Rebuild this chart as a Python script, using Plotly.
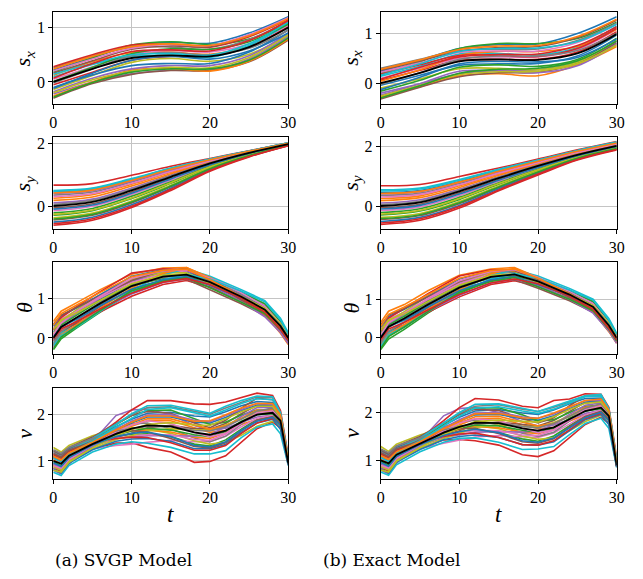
import plotly.graph_objects as go

# ---------------- data ----------------
# knot times
T_S = [0, 5, 10, 15, 20, 25, 30]
T_TH = [0, 1, 3, 6, 10, 14, 17, 20, 24, 27, 29, 30]
T_V = [0, 1, 2, 5, 8, 10, 12, 15, 18, 20, 22, 24, 26, 28, 29, 30]

# s_x, SVGP (a): mean and each sample's deviation from the mean
SX_A_MEAN = [0.00, 0.24, 0.44, 0.49, 0.47, 0.64, 1.00]
SX_A_DEV = [
    [0.22, 0.21, 0.22, 0.24, 0.24, 0.26, 0.20],
    [0.12, 0.13, 0.10, 0.06, 0.04, 0.02, 0.00],
    [0.18, 0.20, 0.24, 0.25, 0.22, 0.15, 0.08],
    [-0.05, -0.06, -0.04, -0.02, 0.00, 0.01, 0.02],
    [-0.22, -0.24, -0.29, -0.27, -0.25, -0.22, -0.16],
    [-0.30, -0.27, -0.30, -0.28, -0.26, -0.27, -0.23],
    [0.05, 0.04, 0.07, 0.09, 0.08, 0.06, 0.04],
    [0.26, 0.24, 0.20, 0.15, 0.13, 0.14, 0.12],
    [-0.14, -0.12, -0.08, -0.06, -0.09, -0.13, -0.14],
    [0.09, 0.08, 0.03, 0.00, -0.02, 0.03, 0.07],
    [-0.10, -0.11, -0.14, -0.15, -0.13, -0.09, -0.04],
    [-0.26, -0.24, -0.22, -0.24, -0.27, -0.26, -0.21],
    [0.01, 0.03, 0.08, 0.12, 0.13, 0.10, 0.06],
    [0.28, 0.26, 0.24, 0.20, 0.17, 0.19, 0.15],
    [-0.18, -0.17, -0.20, -0.19, -0.17, -0.16, -0.10],
    [0.16, 0.15, 0.16, 0.17, 0.18, 0.21, 0.17],
    [0.20, 0.18, 0.18, 0.20, 0.20, 0.23, 0.18],
    [-0.02, 0.00, 0.04, 0.05, 0.03, -0.02, -0.05],
    [-0.20, -0.20, -0.24, -0.22, -0.21, -0.19, -0.13],
    [0.14, 0.10, 0.06, 0.03, 0.02, 0.06, 0.10],
    [-0.12, -0.08, -0.04, -0.02, -0.05, -0.07, -0.10],
    [0.24, 0.23, 0.21, 0.21, 0.20, 0.21, 0.16],
    [-0.28, -0.25, -0.26, -0.25, -0.23, -0.24, -0.19],
    [0.07, 0.10, 0.12, 0.10, 0.10, 0.12, 0.13],
]
# s_x, Exact (b)
SX_B_MEAN = [0.00, 0.21, 0.44, 0.48, 0.47, 0.60, 0.99]
SX_B_DEV = [
    [0.24, 0.25, 0.26, 0.30, 0.32, 0.40, 0.35],
    [-0.28, -0.28, -0.29, -0.29, -0.32, -0.23, -0.25],
    [0.20, 0.22, 0.26, 0.32, 0.33, 0.30, 0.24],
    [0.06, 0.05, 0.02, 0.00, 0.01, 0.03, 0.05],
    [-0.20, -0.22, -0.25, -0.22, -0.20, -0.18, -0.15],
    [-0.32, -0.29, -0.31, -0.27, -0.25, -0.20, -0.18],
    [0.10, 0.09, 0.06, 0.05, 0.06, 0.08, 0.10],
    [0.30, 0.27, 0.22, 0.20, 0.22, 0.26, 0.22],
    [-0.10, -0.12, -0.15, -0.18, -0.20, -0.18, -0.12],
    [0.14, 0.13, 0.15, 0.12, 0.10, 0.12, 0.16],
    [-0.04, -0.05, -0.08, -0.09, -0.07, -0.05, -0.02],
    [0.04, 0.06, 0.12, 0.16, 0.17, 0.14, 0.10],
    [-0.16, -0.15, -0.12, -0.11, -0.13, -0.12, -0.08],
    [0.18, 0.16, 0.12, 0.08, 0.07, 0.10, 0.12],
    [-0.24, -0.22, -0.20, -0.23, -0.26, -0.25, -0.20],
    [0.26, 0.24, 0.20, 0.24, 0.27, 0.32, 0.28],
    [0.22, 0.20, 0.18, 0.17, 0.18, 0.22, 0.20],
    [-0.02, 0.00, 0.04, 0.07, 0.08, 0.06, 0.02],
    [-0.26, -0.25, -0.27, -0.25, -0.23, -0.21, -0.22],
    [0.16, 0.18, 0.20, 0.22, 0.24, 0.24, 0.20],
    [-0.13, -0.09, -0.05, -0.04, -0.04, -0.08, -0.10],
    [0.28, 0.26, 0.24, 0.27, 0.29, 0.34, 0.30],
    [-0.30, -0.26, -0.24, -0.20, -0.17, -0.15, -0.14],
    [0.08, 0.11, 0.09, 0.10, 0.12, 0.16, 0.15],
]

# s_y, SVGP (a)
SY_A_MEAN = [0.00, 0.13, 0.50, 0.94, 1.37, 1.71, 1.99]
SY_A_DEV = [
    [0.45, 0.41, 0.35, 0.26, 0.13, 0.06, 0.03],
    [0.25, 0.23, 0.20, 0.15, 0.08, 0.04, 0.02],
    [-0.30, -0.28, -0.26, -0.21, -0.12, -0.06, -0.02],
    [0.67, 0.59, 0.49, 0.34, 0.16, 0.07, 0.04],
    [0.10, 0.09, 0.08, 0.06, 0.03, 0.01, 0.00],
    [-0.45, -0.43, -0.40, -0.32, -0.18, -0.09, -0.03],
    [-0.15, -0.14, -0.13, -0.11, -0.06, -0.03, -0.01],
    [0.35, 0.32, 0.27, 0.20, 0.10, 0.04, 0.02],
    [-0.38, -0.36, -0.34, -0.27, -0.15, -0.08, -0.03],
    [0.50, 0.45, 0.38, 0.28, 0.14, 0.06, 0.04],
    [-0.52, -0.49, -0.46, -0.37, -0.21, -0.11, -0.04],
    [0.18, 0.16, 0.14, 0.10, 0.05, 0.02, 0.01],
    [-0.22, -0.21, -0.19, -0.16, -0.09, -0.05, -0.02],
    [-0.62, -0.59, -0.55, -0.44, -0.25, -0.13, -0.05],
    [0.40, 0.36, 0.30, 0.22, 0.11, 0.05, 0.03],
    [-0.06, -0.06, -0.05, -0.04, -0.02, -0.01, 0.00],
    [0.30, 0.27, 0.23, 0.17, 0.08, 0.04, 0.02],
    [0.05, 0.05, 0.04, 0.03, 0.01, 0.01, 0.00],
    [-0.27, -0.26, -0.24, -0.19, -0.11, -0.06, -0.02],
    [0.48, 0.43, 0.36, 0.27, 0.13, 0.06, 0.04],
    [-0.10, -0.10, -0.09, -0.07, -0.04, -0.02, -0.01],
    [0.42, 0.38, 0.32, 0.24, 0.12, 0.05, 0.03],
    [-0.42, -0.40, -0.37, -0.30, -0.17, -0.09, -0.03],
    [-0.57, -0.54, -0.51, -0.40, -0.23, -0.12, -0.05],
]
# s_y, Exact (b)
SY_B_MEAN = [0.00, 0.12, 0.49, 0.93, 1.34, 1.71, 2.01]
SY_B_DEV = [
    [0.45, 0.40, 0.33, 0.25, 0.17, 0.13, 0.11],
    [0.25, 0.22, 0.19, 0.14, 0.09, 0.07, 0.06],
    [-0.30, -0.29, -0.27, -0.20, -0.14, -0.08, -0.06],
    [0.68, 0.60, 0.50, 0.34, 0.23, 0.17, 0.15],
    [0.10, 0.09, 0.07, 0.05, 0.04, 0.03, 0.02],
    [-0.45, -0.44, -0.41, -0.31, -0.22, -0.12, -0.09],
    [-0.15, -0.15, -0.14, -0.10, -0.07, -0.04, -0.03],
    [0.35, 0.31, 0.26, 0.19, 0.13, 0.10, 0.08],
    [-0.38, -0.37, -0.34, -0.26, -0.18, -0.10, -0.08],
    [0.54, 0.48, 0.40, 0.30, 0.20, 0.15, 0.13],
    [-0.52, -0.50, -0.47, -0.35, -0.25, -0.14, -0.11],
    [0.18, 0.16, 0.13, 0.10, 0.07, 0.05, 0.04],
    [-0.22, -0.21, -0.20, -0.15, -0.11, -0.06, -0.05],
    [-0.62, -0.60, -0.56, -0.42, -0.30, -0.17, -0.13],
    [0.40, 0.36, 0.30, 0.22, 0.15, 0.11, 0.10],
    [-0.06, -0.06, -0.05, -0.04, -0.03, -0.02, -0.01],
    [0.30, 0.27, 0.22, 0.17, 0.11, 0.08, 0.07],
    [0.05, 0.04, 0.04, 0.03, 0.02, 0.01, 0.01],
    [-0.27, -0.26, -0.24, -0.18, -0.13, -0.07, -0.06],
    [0.50, 0.45, 0.37, 0.28, 0.19, 0.14, 0.12],
    [-0.10, -0.10, -0.09, -0.07, -0.05, -0.03, -0.02],
    [0.42, 0.37, 0.31, 0.23, 0.16, 0.12, 0.10],
    [-0.42, -0.41, -0.38, -0.29, -0.20, -0.11, -0.09],
    [-0.57, -0.55, -0.51, -0.39, -0.27, -0.15, -0.12],
]

# theta, SVGP (a)
TH_A_MEAN = [0.00, 0.28, 0.52, 0.88, 1.32, 1.56, 1.61, 1.42, 1.05, 0.72, 0.30, 0.00]
TH_A_DEV = [
    [0.15, 0.12, 0.14, 0.10, 0.12, 0.10, 0.08, 0.04, 0.06, 0.10, 0.08, 0.05],
    [0.42, 0.40, 0.38, 0.35, 0.30, 0.22, 0.18, 0.10, 0.02, -0.05, -0.10, -0.08],
    [-0.30, -0.30, -0.26, -0.22, -0.16, -0.10, -0.05, 0.02, 0.08, 0.06, 0.05, 0.06],
    [-0.08, -0.10, -0.15, -0.22, -0.26, -0.20, -0.15, -0.12, -0.10, -0.12, -0.14, -0.12],
    [0.05, 0.08, 0.10, 0.14, 0.15, 0.12, 0.10, 0.08, 0.05, 0.02, -0.02, -0.05],
    [-0.18, -0.15, -0.12, -0.08, -0.06, -0.10, -0.12, -0.19, -0.18, -0.15, -0.12, -0.10],
    [0.25, 0.20, 0.18, 0.15, 0.10, 0.08, 0.10, 0.12, 0.14, 0.12, 0.10, 0.08],
    [-0.05, -0.02, 0.00, 0.03, 0.05, 0.02, -0.02, -0.04, -0.06, -0.04, -0.03, -0.02],
    [0.10, 0.15, 0.20, 0.22, 0.18, 0.10, 0.05, 0.00, -0.05, -0.08, -0.06, -0.04],
    [-0.12, -0.16, -0.20, -0.18, -0.10, 0.05, 0.15, 0.15, 0.18, 0.23, 0.20, 0.13],
    [0.30, 0.28, 0.25, 0.22, 0.25, 0.18, 0.12, 0.06, 0.02, 0.00, 0.02, 0.00],
    [-0.22, -0.20, -0.18, -0.12, -0.05, 0.08, 0.18, 0.12, 0.00, -0.12, -0.18, -0.17],
    [0.00, 0.05, 0.06, 0.08, 0.02, -0.05, -0.08, 0.05, 0.12, 0.15, 0.12, 0.10],
    [0.20, 0.24, 0.28, 0.30, 0.33, 0.20, 0.12, 0.08, -0.02, -0.10, -0.06, -0.04],
    [-0.25, -0.24, -0.22, -0.16, -0.20, -0.15, -0.10, -0.08, -0.12, -0.18, -0.16, -0.14],
    [0.35, 0.30, 0.26, 0.20, 0.14, 0.16, 0.14, 0.00, -0.08, -0.06, -0.04, -0.02],
    [0.08, 0.10, 0.16, 0.18, 0.20, 0.15, 0.12, 0.10, 0.10, 0.08, 0.06, 0.04],
    [-0.15, -0.12, -0.08, -0.04, 0.00, -0.02, 0.00, 0.02, 0.04, 0.02, 0.00, -0.02],
    [0.22, 0.18, 0.12, 0.08, 0.06, 0.04, 0.02, -0.02, 0.00, 0.04, 0.06, 0.03],
    [-0.20, -0.22, -0.24, -0.20, -0.14, -0.08, 0.00, 0.08, 0.14, 0.20, 0.16, 0.10],
    [0.02, 0.00, -0.04, -0.06, -0.08, -0.08, -0.05, -0.08, -0.04, 0.00, 0.02, 0.00],
    [0.32, 0.34, 0.32, 0.28, 0.24, 0.16, 0.14, 0.06, 0.00, -0.04, -0.02, 0.00],
    [-0.28, -0.26, -0.22, -0.18, -0.12, -0.12, -0.08, -0.14, -0.14, -0.10, -0.08, -0.06],
    [-0.02, -0.05, -0.10, -0.14, -0.18, -0.14, -0.10, -0.06, -0.04, -0.06, -0.08, -0.06],
]
# theta, Exact (b)
TH_B_MEAN = [0.00, 0.29, 0.50, 0.86, 1.30, 1.58, 1.64, 1.46, 1.12, 0.80, 0.32, 0.00]
TH_B_DEV = [
    [0.12, 0.10, 0.12, 0.12, 0.10, 0.08, 0.06, 0.05, 0.08, 0.12, 0.10, 0.06],
    [0.40, 0.40, 0.36, 0.36, 0.32, 0.20, 0.18, 0.10, 0.00, -0.08, -0.12, -0.10],
    [-0.30, -0.32, -0.28, -0.22, -0.15, -0.08, -0.04, 0.02, 0.06, 0.06, 0.04, 0.08],
    [-0.10, -0.12, -0.16, -0.20, -0.24, -0.20, -0.16, -0.12, -0.10, -0.12, -0.12, -0.10],
    [0.04, 0.06, 0.10, 0.12, 0.14, 0.10, 0.08, 0.06, 0.04, 0.00, -0.04, -0.08],
    [-0.16, -0.14, -0.10, -0.08, -0.05, -0.10, -0.14, -0.18, -0.16, -0.14, -0.14, -0.12],
    [0.22, 0.20, 0.16, 0.14, 0.10, 0.08, 0.10, 0.10, 0.12, 0.10, 0.06, -0.14],
    [-0.04, -0.02, 0.02, 0.04, 0.05, 0.02, -0.02, -0.05, -0.06, -0.04, -0.02, -0.02],
    [0.08, 0.14, 0.18, 0.22, 0.16, 0.12, 0.08, 0.02, -0.04, -0.06, -0.05, -0.04],
    [-0.14, -0.16, -0.18, -0.16, -0.08, 0.04, 0.12, 0.14, 0.16, 0.20, 0.18, 0.12],
    [0.28, 0.26, 0.24, 0.22, 0.22, 0.16, 0.12, 0.06, 0.02, 0.00, 0.02, 0.00],
    [-0.20, -0.20, -0.16, -0.12, -0.06, 0.08, 0.16, 0.10, -0.02, -0.12, -0.16, -0.14],
    [0.00, 0.04, 0.06, 0.08, 0.04, -0.04, -0.06, 0.04, 0.10, 0.14, 0.12, 0.10],
    [0.18, 0.22, 0.26, 0.28, 0.30, 0.18, 0.10, 0.06, -0.04, -0.10, -0.06, -0.04],
    [-0.26, -0.24, -0.22, -0.18, -0.20, -0.16, -0.12, -0.10, -0.12, -0.16, -0.14, -0.14],
    [0.34, 0.30, 0.26, 0.20, 0.16, 0.14, 0.12, 0.00, -0.06, -0.06, -0.04, -0.02],
    [0.06, 0.10, 0.14, 0.16, 0.18, 0.14, 0.12, 0.10, 0.08, 0.08, 0.06, 0.04],
    [-0.14, -0.12, -0.08, -0.04, 0.00, -0.02, 0.00, 0.02, 0.04, 0.02, 0.00, -0.02],
    [0.20, 0.18, 0.12, 0.08, 0.06, 0.04, 0.02, -0.02, 0.00, 0.04, 0.06, 0.02],
    [-0.22, -0.22, -0.22, -0.18, -0.12, -0.06, 0.02, 0.08, 0.12, 0.18, 0.14, 0.10],
    [0.02, 0.00, -0.04, -0.06, -0.08, -0.08, -0.06, -0.08, -0.04, 0.00, 0.02, -0.04],
    [0.30, 0.32, 0.30, 0.26, 0.24, 0.16, 0.14, 0.08, 0.02, -0.02, -0.02, 0.00],
    [-0.28, -0.26, -0.22, -0.18, -0.12, -0.12, -0.08, -0.14, -0.12, -0.10, -0.10, -0.08],
    [-0.04, -0.06, -0.10, -0.14, -0.18, -0.16, -0.12, -0.06, -0.04, -0.06, -0.08, -0.06],
]

# v, SVGP (a)
V_A_MEAN = [1.00, 0.94, 1.11, 1.36, 1.58, 1.69, 1.76, 1.74, 1.61, 1.56, 1.65, 1.83, 1.99, 2.03, 1.86, 0.95]
V_A_DEV = [
    [0.20, 0.18, 0.15, 0.12, 0.15, 0.20, 0.26, 0.30, 0.35, 0.38, 0.40, 0.35, 0.28, 0.22, 0.12, 0.06],
    [-0.10, -0.12, -0.10, -0.05, 0.00, 0.05, 0.10, 0.12, 0.10, 0.05, 0.00, -0.05, -0.10, -0.12, -0.10, 0.00],
    [0.05, 0.08, 0.10, 0.08, -0.05, -0.12, -0.18, -0.22, -0.25, -0.24, -0.20, -0.15, -0.10, -0.08, -0.06, -0.02],
    [-0.15, -0.16, -0.12, -0.10, -0.20, -0.30, -0.47, -0.55, -0.64, -0.57, -0.54, -0.43, -0.30, -0.20, -0.15, -0.04],
    [-0.20, -0.22, -0.18, 0.05, 0.39, 0.40, 0.35, 0.25, 0.15, 0.10, 0.05, 0.00, -0.05, -0.05, -0.04, 0.00],
    [0.10, 0.12, 0.05, -0.02, -0.08, -0.10, -0.05, 0.02, 0.08, 0.12, 0.15, 0.18, 0.20, 0.18, 0.10, 0.04],
    [0.15, 0.10, 0.08, -0.10, -0.25, -0.33, -0.36, -0.30, -0.20, -0.15, -0.12, -0.10, -0.08, -0.05, -0.02, 0.00],
    [0.00, 0.02, 0.05, 0.10, 0.12, 0.10, 0.05, -0.05, -0.12, -0.15, -0.12, -0.05, 0.05, 0.10, 0.08, 0.03],
    [0.29, 0.25, 0.22, 0.18, 0.10, 0.02, -0.08, -0.15, -0.18, -0.20, -0.25, -0.28, -0.25, -0.18, -0.10, 0.02],
    [-0.24, -0.25, -0.21, -0.17, -0.22, -0.28, -0.38, -0.45, -0.46, -0.41, -0.43, -0.33, -0.27, -0.24, -0.28, -0.05],
    [-0.05, -0.08, -0.05, 0.02, 0.08, 0.12, 0.18, 0.20, 0.22, 0.25, 0.28, 0.25, 0.20, 0.15, 0.10, 0.05],
    [0.12, 0.10, 0.08, 0.05, -0.02, -0.05, -0.10, -0.12, -0.10, -0.08, -0.05, 0.00, 0.05, 0.08, 0.05, 0.02],
    [-0.08, -0.05, 0.00, 0.08, 0.20, 0.28, 0.32, 0.35, 0.30, 0.22, 0.18, 0.15, 0.10, 0.05, 0.02, 0.00],
    [0.08, 0.05, 0.02, 0.10, 0.25, 0.40, 0.53, 0.55, 0.61, 0.65, 0.61, 0.53, 0.46, 0.37, 0.22, 0.16],
    [-0.15, -0.12, -0.08, -0.05, -0.10, -0.18, -0.22, -0.20, -0.08, 0.00, 0.08, 0.12, 0.15, 0.12, 0.06, 0.02],
    [0.22, 0.20, 0.18, 0.15, 0.22, 0.28, 0.30, 0.28, 0.20, 0.15, 0.22, 0.30, 0.35, 0.28, 0.15, 0.08],
    [0.05, 0.02, 0.00, -0.02, -0.10, -0.15, -0.20, -0.18, -0.15, -0.12, -0.08, -0.02, 0.02, 0.00, -0.04, 0.00],
    [0.18, 0.15, 0.12, 0.10, 0.20, 0.30, 0.38, 0.42, 0.45, 0.44, 0.48, 0.42, 0.38, 0.32, 0.18, 0.10],
    [-0.12, -0.14, -0.12, -0.10, -0.12, -0.15, -0.12, -0.05, 0.05, 0.10, 0.12, 0.08, 0.05, 0.02, -0.02, 0.00],
    [0.10, 0.08, 0.10, 0.12, 0.20, 0.32, 0.42, 0.45, 0.48, 0.46, 0.52, 0.46, 0.40, 0.34, 0.16, 0.10],
    [-0.18, -0.20, -0.16, -0.12, -0.16, -0.22, -0.28, -0.32, -0.35, -0.30, -0.30, -0.22, -0.18, -0.14, -0.18, -0.03],
    [0.02, 0.00, 0.02, 0.05, 0.06, 0.08, 0.14, 0.16, 0.15, 0.12, 0.10, 0.08, 0.10, 0.06, 0.02, 0.00],
    [-0.02, -0.04, -0.02, 0.00, -0.02, -0.05, -0.06, -0.08, -0.05, -0.04, -0.02, 0.02, 0.00, -0.02, -0.02, 0.00],
    [0.14, 0.12, 0.10, 0.02, -0.10, -0.18, -0.26, -0.35, -0.38, -0.33, -0.32, -0.24, -0.18, -0.12, -0.08, -0.02],
    [-0.06, -0.08, -0.06, 0.00, 0.10, 0.16, 0.22, 0.25, 0.26, 0.28, 0.32, 0.28, 0.24, 0.18, 0.10, 0.04],
    [0.16, 0.14, 0.12, 0.06, 0.02, -0.04, -0.14, -0.26, -0.30, -0.28, -0.26, -0.18, -0.12, -0.08, -0.06, 0.00],
    [-0.10, -0.10, -0.08, -0.02, 0.04, 0.08, 0.10, 0.06, 0.00, -0.04, -0.06, -0.02, 0.04, 0.04, 0.02, 0.00],
    [0.24, 0.22, 0.18, 0.12, 0.06, 0.00, -0.02, 0.00, 0.04, 0.08, 0.08, 0.06, 0.08, 0.10, 0.06, 0.02],
    [-0.20, -0.18, -0.14, -0.08, -0.04, -0.02, 0.02, 0.08, 0.16, 0.20, 0.25, 0.22, 0.18, 0.14, 0.08, 0.02],
    [0.06, 0.04, 0.04, 0.06, 0.14, 0.22, 0.34, 0.40, 0.42, 0.40, 0.44, 0.40, 0.34, 0.28, 0.14, 0.08],
    [-0.04, -0.06, -0.04, -0.02, -0.06, -0.10, -0.14, -0.22, -0.28, -0.26, -0.24, -0.18, -0.14, -0.10, -0.10, -0.02],
    [0.10, 0.08, 0.06, 0.04, 0.08, 0.14, 0.20, 0.22, 0.24, 0.30, 0.34, 0.30, 0.24, 0.20, 0.12, 0.06],
]
# v, Exact (b)
V_B_MEAN = [1.00, 0.94, 1.12, 1.35, 1.58, 1.70, 1.79, 1.78, 1.67, 1.62, 1.69, 1.86, 2.03, 2.10, 1.93, 0.90]
V_B_DEV = [
    [0.20, 0.18, 0.15, 0.12, 0.15, 0.20, 0.24, 0.28, 0.32, 0.34, 0.36, 0.32, 0.26, 0.20, 0.12, 0.06],
    [-0.10, -0.12, -0.10, -0.05, 0.00, 0.04, 0.08, 0.10, 0.08, 0.04, 0.00, -0.04, -0.08, -0.10, -0.08, 0.00],
    [0.05, 0.08, 0.10, 0.08, -0.04, -0.10, -0.15, -0.20, -0.22, -0.22, -0.18, -0.14, -0.10, -0.08, -0.06, -0.02],
    [-0.15, -0.16, -0.12, -0.10, -0.15, -0.26, -0.38, -0.46, -0.55, -0.54, -0.49, -0.38, -0.28, -0.20, -0.15, -0.04],
    [-0.20, -0.22, -0.18, 0.05, 0.35, 0.38, 0.32, 0.22, 0.14, 0.10, 0.05, 0.00, -0.05, -0.05, -0.04, 0.00],
    [0.10, 0.12, 0.05, -0.02, -0.06, -0.08, -0.04, 0.02, 0.08, 0.10, 0.14, 0.16, 0.18, 0.16, 0.10, 0.04],
    [0.15, 0.10, 0.08, -0.10, -0.22, -0.28, -0.30, -0.26, -0.18, -0.14, -0.12, -0.10, -0.08, -0.05, -0.02, 0.00],
    [0.00, 0.02, 0.05, 0.10, 0.12, 0.10, 0.05, -0.04, -0.10, -0.12, -0.10, -0.04, 0.04, 0.08, 0.06, 0.03],
    [0.29, 0.25, 0.22, 0.18, 0.10, 0.02, -0.06, -0.12, -0.16, -0.18, -0.22, -0.24, -0.22, -0.16, -0.10, 0.02],
    [-0.24, -0.25, -0.21, -0.17, -0.20, -0.24, -0.32, -0.40, -0.44, -0.38, -0.40, -0.32, -0.26, -0.22, -0.26, -0.05],
    [-0.05, -0.08, -0.05, 0.02, 0.08, 0.12, 0.16, 0.18, 0.20, 0.22, 0.24, 0.22, 0.18, 0.14, 0.10, 0.05],
    [0.12, 0.10, 0.08, 0.05, -0.02, -0.05, -0.08, -0.10, -0.08, -0.06, -0.04, 0.00, 0.04, 0.06, 0.04, 0.02],
    [-0.08, -0.05, 0.00, 0.08, 0.18, 0.26, 0.30, 0.32, 0.28, 0.20, 0.16, 0.14, 0.10, 0.05, 0.02, 0.00],
    [0.08, 0.05, 0.02, 0.10, 0.25, 0.40, 0.50, 0.48, 0.46, 0.48, 0.56, 0.42, 0.36, 0.28, 0.18, 0.16],
    [-0.15, -0.12, -0.08, -0.05, -0.10, -0.16, -0.20, -0.18, -0.08, 0.00, 0.06, 0.10, 0.12, 0.10, 0.06, 0.02],
    [0.22, 0.20, 0.18, 0.15, 0.20, 0.26, 0.28, 0.26, 0.20, 0.16, 0.20, 0.28, 0.32, 0.25, 0.14, 0.08],
    [0.05, 0.02, 0.00, -0.02, -0.08, -0.12, -0.16, -0.16, -0.14, -0.10, -0.06, -0.02, 0.02, 0.00, -0.04, 0.00],
    [0.18, 0.15, 0.12, 0.10, 0.20, 0.28, 0.34, 0.38, 0.40, 0.40, 0.42, 0.36, 0.32, 0.26, 0.16, 0.10],
    [-0.12, -0.14, -0.12, -0.10, -0.12, -0.14, -0.10, -0.04, 0.04, 0.08, 0.10, 0.06, 0.04, 0.02, -0.02, 0.00],
    [0.10, 0.08, 0.10, 0.12, 0.20, 0.30, 0.38, 0.40, 0.42, 0.40, 0.44, 0.38, 0.32, 0.28, 0.14, 0.10],
    [-0.18, -0.20, -0.16, -0.12, -0.15, -0.20, -0.26, -0.30, -0.34, -0.30, -0.30, -0.24, -0.18, -0.14, -0.18, -0.03],
    [0.02, 0.00, 0.02, 0.05, 0.06, 0.08, 0.12, 0.14, 0.13, 0.10, 0.08, 0.06, 0.08, 0.05, 0.02, 0.00],
    [-0.02, -0.04, -0.02, 0.00, -0.02, -0.04, -0.05, -0.06, -0.04, -0.03, -0.02, 0.02, 0.00, -0.02, -0.02, 0.00],
    [0.14, 0.12, 0.10, 0.02, -0.08, -0.15, -0.22, -0.30, -0.34, -0.30, -0.28, -0.22, -0.16, -0.12, -0.08, -0.02],
    [-0.06, -0.08, -0.06, 0.00, 0.10, 0.15, 0.20, 0.22, 0.24, 0.26, 0.28, 0.25, 0.22, 0.16, 0.10, 0.04],
    [0.16, 0.14, 0.12, 0.06, 0.02, -0.04, -0.12, -0.22, -0.28, -0.26, -0.24, -0.16, -0.12, -0.08, -0.06, 0.00],
    [-0.10, -0.10, -0.08, -0.02, 0.04, 0.08, 0.08, 0.05, 0.00, -0.04, -0.05, -0.02, 0.04, 0.04, 0.02, 0.00],
    [0.24, 0.22, 0.18, 0.12, 0.06, 0.00, -0.02, 0.00, 0.04, 0.06, 0.08, 0.06, 0.06, 0.08, 0.06, 0.02],
    [-0.20, -0.18, -0.14, -0.08, -0.04, -0.02, 0.02, 0.06, 0.14, 0.18, 0.22, 0.20, 0.16, 0.12, 0.08, 0.02],
    [0.06, 0.04, 0.04, 0.06, 0.14, 0.22, 0.30, 0.34, 0.36, 0.36, 0.38, 0.34, 0.30, 0.24, 0.14, 0.08],
    [-0.04, -0.06, -0.04, -0.02, -0.06, -0.10, -0.14, -0.20, -0.26, -0.24, -0.22, -0.18, -0.14, -0.10, -0.10, -0.02],
    [0.10, 0.08, 0.06, 0.04, 0.08, 0.12, 0.18, 0.20, 0.22, 0.26, 0.30, 0.26, 0.22, 0.18, 0.12, 0.06],
]

Y_LABELS = ["<i>s</i><sub><i>x</i></sub>", "<i>s</i><sub><i>y</i></sub>", "<i>θ</i>", "<i>v</i>"]
Y_TICKS = [[0, 1], [0, 2], [0, 1], [1, 2]]
X_TICKS = [0, 10, 20, 30]
CAPTIONS = ["(a) SVGP Model", "(b) Exact Model"]

COLORS = ['#1f77b4', '#ff7f0e', '#2ca02c', '#d62728', '#9467bd',
          '#8c564b', '#e377c2', '#7f7f7f', '#bcbd22', '#17becf']

# ---------------- layout geometry ----------------
W, H = 643, 579
COL_PX = [(53.3, 288.3), (380.7, 616.7)]
ROW_PX = [(12.3, 104.0), (137.3, 229.0), (261.7, 353.7), (388.0, 478.7)]
Y_RANGES = [
    [[-0.405, 1.28], [-0.42, 1.43]],
    [[-0.74, 2.21], [-0.77, 2.30]],
    [[-0.40, 1.94], [-0.41, 1.97]],
    [[0.62, 2.56], [0.62, 2.51]],
]

PANELS = [
    [(T_S, SX_A_MEAN, SX_A_DEV, 'spline'), (T_S, SX_B_MEAN, SX_B_DEV, 'spline')],
    [(T_S, SY_A_MEAN, SY_A_DEV, 'spline'), (T_S, SY_B_MEAN, SY_B_DEV, 'spline')],
    [(T_TH, TH_A_MEAN, TH_A_DEV, 'linear'), (T_TH, TH_B_MEAN, TH_B_DEV, 'linear')],
    [(T_V, V_A_MEAN, V_A_DEV, 'linear'), (T_V, V_B_MEAN, V_B_DEV, 'linear')],
]

FONT = "Liberation Serif, Times New Roman, serif"
fig = go.Figure()
layout = dict(
    width=W, height=H,
    margin=dict(l=0, r=0, t=0, b=0, pad=0, autoexpand=False),
    paper_bgcolor='white', plot_bgcolor='white', showlegend=False,
    hovermode=False,
)
annotations = []

for r in range(4):
    for c in range(2):
        n = r * 2 + c + 1
        knots, mean, devs, shape = PANELS[r][c]
        xa = 'x' if n == 1 else f'x{n}'
        ya = 'y' if n == 1 else f'y{n}'
        for k, dev in enumerate(devs):
            ys = [m + d for m, d in zip(mean, dev)]
            fig.add_trace(go.Scatter(
                x=knots, y=ys, mode='lines', xaxis=xa, yaxis=ya,
                line=dict(color=COLORS[k % 10], width=1.6, shape=shape),
            ))
        fig.add_trace(go.Scatter(
            x=knots, y=mean, mode='lines', xaxis=xa, yaxis=ya,
            line=dict(color='black', width=1.8, shape=shape),
        ))
        x0, x1 = COL_PX[c]
        y0, y1 = ROW_PX[r]
        common = dict(
            showline=True, linecolor='black', linewidth=1, mirror=True,
            ticks='outside', ticklen=4, tickwidth=1, tickcolor='black',
            showgrid=True, gridcolor='#c4c4c4', gridwidth=1, zeroline=False,
            automargin=False,
            tickfont=dict(family=FONT, size=16, color='black'),
        )
        layout['xaxis' if n == 1 else f'xaxis{n}'] = dict(
            domain=[x0 / W, x1 / W], range=[0, 30], tickvals=X_TICKS,
            anchor=ya, **common)
        layout['yaxis' if n == 1 else f'yaxis{n}'] = dict(
            domain=[1 - y1 / H, 1 - y0 / H], range=Y_RANGES[r][c],
            tickvals=Y_TICKS[r], anchor=xa, **common)
        # y label
        annotations.append(dict(
            text=Y_LABELS[r], xref='paper', yref='paper',
            x=(x0 - 29) / W, y=1 - (y0 + y1) / 2 / H,
            xanchor='center', yanchor='middle', textangle=-90, showarrow=False,
            font=dict(family=FONT, size=22, color='black'),
        ))

for c in range(2):
    x0, x1 = COL_PX[c]
    annotations.append(dict(
        text="<i>t</i>", xref='paper', yref='paper',
        x=(x0 + x1) / 2 / W, y=1 - 514 / H, xanchor='center', yanchor='middle',
        showarrow=False, font=dict(family=FONT, size=23, color='black'),
    ))

CAP_X = [124, 391]
for c in range(2):
    annotations.append(dict(
        text=CAPTIONS[c], xref='paper', yref='paper',
        x=CAP_X[c] / W, y=1 - 560 / H, xanchor='center', yanchor='middle',
        showarrow=False, font=dict(family="DejaVu Serif", size=17, color='black'),
    ))

layout['annotations'] = annotations
fig.update_layout(**layout)
fig.write_html(
    "out.html",
    config={'displayModeBar': False, 'staticPlot': True},
    post_script="document.body.style.margin='0px';document.body.style.overflow='hidden';",
)
